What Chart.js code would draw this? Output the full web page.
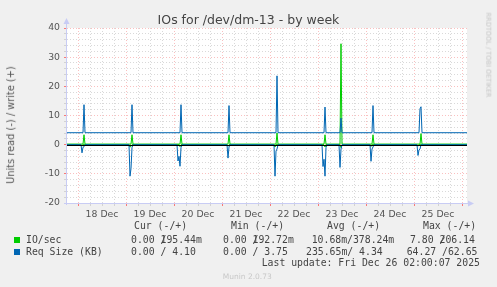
<!DOCTYPE html>
<html>
<head>
<meta charset="utf-8">
<script src="https://cdn.jsdelivr.net/npm/chart.js@4.4.1/dist/chart.umd.min.js"></script>
<style>
body{margin:0;background:#f0f0f0;width:497px;height:287px;overflow:hidden;position:relative;font-family:"DejaVu Sans",sans-serif}
#grafico{position:absolute;left:0;top:0}
.t{position:absolute;white-space:pre;line-height:1}
.mono{font-family:"DejaVu Sans Mono",monospace;font-size:9.8px;color:#444}
.o{display:inline-block;width:0}
.sq{position:absolute;width:6px;height:6px}
</style>
</head>
<body>
<canvas id="grafico" width="497" height="287"></canvas>
<div id="textos"></div>
<script>
// hours counted from 18 Dec 00:00, one munin sample = 0.5 h
const dayLabels = ["18 Dec", "19 Dec", "20 Dec", "21 Dec", "22 Dec", "23 Dec", "24 Dec", "25 Dec"];

// IO/sec write (+)
const ioWrite = [[-5.5,0.2],
  [2.5,0.2],[3,3.4],[3.5,0.2],
  [26.5,0.2],[27,3.4],[27.5,0.2],
  [51,0.2],[51.5,3.4],[52,0.2],
  [75,0.2],[75.5,3.4],[76,0.2],
  [99,0.2],[99.5,4.0],[100,0.2],
  [123,0.2],[123.5,3.4],[124,0.2],
  [131,0.2],[131.5,34.6],[132,0.2],
  [147,0.2],[147.5,3.4],[148,0.2],
  [171,0.2],[171.5,3.8],[172,0.2],
  [194.5,0.2]];

// IO/sec read (-)
const ioRead = [[-5.5,0],
  [1.5,0],[2,-0.5],[2.5,0],
  [25.5,0],[26,-0.8],[26.5,-0.6],[27,0],
  [50.5,0],[51,-0.7],[51.5,0],
  [74.5,0],[75,-0.5],[75.5,0],
  [98,0],[98.5,-0.8],[99,0],
  [123,0],[123.5,-0.8],[124,0],
  [131,0],[131.5,-1.0],[132,0],
  [146,0],[146.5,-0.6],[147,0],
  [169.5,0],[170,-0.5],[170.5,0],
  [194.5,0]];

// Req Size write (+)
const reqWrite = [[-5.5,4.1],
  [2.5,4.1],[3,13.7],[3.5,4.1],
  [26.5,4.1],[27,13.7],[27.5,4.1],
  [51,4.1],[51.5,13.7],[52,4.1],
  [75,4.1],[75.5,13.4],[76,4.1],
  [99,4.1],[99.5,23.6],[100,4.1],
  [123,4.1],[123.5,12.9],[124,4.1],
  [131,4.1],[131.5,9.1],[132,4.1],
  [147,4.1],[147.5,13.4],[148,4.1],
  [170.5,4.1],[171,12.3],[171.5,13.0],[172,4.1],
  [194.5,4.1]];

// Req Size read (-)
const reqRead = [[-5.5,0],
  [1.5,0],[2,-2.8],[2.5,-0.9],[3,-0.7],[3.5,0],
  [25.5,0],[26,-10.8],[26.5,-8.2],[27,-1.0],[27.5,0],
  [49.5,0],[50,-5.6],[50.5,-4.0],[51,-7.4],[51.5,-1.0],[52,0],
  [74.5,0],[75,-4.6],[75.5,-0.8],[76,0],
  [98,0],[98.5,-10.8],[99,-2.2],[99.5,-1.5],[100,0],
  [122,0],[122.5,-7.5],[123,-5.0],[123.5,-10.8],[124,-1.0],[124.5,0],
  [130.5,0],[131,-7.8],[131.5,-1.5],[132,0],
  [146,0],[146.5,-5.7],[147,-1.5],[147.5,-0.8],[148,0],
  [169.5,0],[170,-3.7],[170.5,-1.8],[171,-1.5],[171.5,0],
  [194.5,0]];

const legendHeads = ["Cur (-/+)", "Min (-/+)", "Avg (-/+)", "Max (-/+)"];
const ioSecLegend = ["0.00 /195.44m", "0.00 /192.72m", "10.68m/378.24m", "7.80 /206.14"];
const reqSizeLegend = ["0.00 / 4.10", "0.00 / 3.75", "235.65m/ 4.34", "64.27 /62.65"];
const lastUpdate = "Last update: Fri Dec 26 02:00:07 2025";

const VERDE = "#00cc00";
const AZUL = "#0066b3";
const ROJO = "rgba(240,60,60,0.32)";
const GRIS = "rgba(120,120,120,0.28)";

const getElemento = (id) => document.getElementById(id);
const toPts = (a) => a.map(([x, y]) => ({ x, y }));

function linea(label, data, color) {
    return { label, data: toPts(data), borderColor: color, borderWidth: 1,
             pointRadius: 0, tension: 0, fill: false };
}

const muninPlugin = {
    id: "munin",
    beforeDraw(chart) {/*fondo blanco del area del grafico*/
        const { ctx, chartArea: a } = chart;
        ctx.save();
        ctx.fillStyle = "#ffffff";
        ctx.fillRect(a.left, a.top, a.right - a.left, a.bottom - a.top);
        ctx.restore();
    },
    afterDatasetsDraw(chart) {/*linea del cero*/
        const { ctx, chartArea: a } = chart;
        const y0 = Math.round(chart.scales.y.getPixelForValue(0)) + 0.5;
        ctx.save();
        ctx.strokeStyle = "#000000";
        ctx.lineWidth = 1;
        ctx.beginPath();
        ctx.moveTo(a.left, y0);
        ctx.lineTo(a.right, y0);
        ctx.stroke();
        ctx.restore();
    },
    afterDraw(chart) {/*ejes con flechas*/
        const { ctx, chartArea: a } = chart;
        ctx.save();
        ctx.strokeStyle = "#c8ccf4";
        ctx.fillStyle = "#c8ccf4";
        ctx.lineWidth = 1;
        ctx.beginPath();
        ctx.moveTo(a.left - 0.5, a.bottom + 2);
        ctx.lineTo(a.left - 0.5, a.top - 5);
        ctx.moveTo(a.left - 3, a.bottom + 0.5);
        ctx.lineTo(a.right + 3, a.bottom + 0.5);
        ctx.stroke();
        ctx.beginPath();
        ctx.moveTo(a.left - 0.5, a.top - 10);
        ctx.lineTo(a.left - 3.5, a.top - 4);
        ctx.lineTo(a.left + 2.5, a.top - 4);
        ctx.closePath();
        ctx.fill();
        ctx.beginPath();
        ctx.moveTo(a.right + 7, a.bottom + 0.5);
        ctx.lineTo(a.right + 1, a.bottom - 2.5);
        ctx.lineTo(a.right + 1, a.bottom + 3.5);
        ctx.closePath();
        ctx.fill();
        ctx.restore();
    }
};

Chart.defaults.font.family = "'DejaVu Sans', sans-serif";

const grafico = new Chart(getElemento("grafico").getContext("2d"), {
    type: "line",
    data: {
        datasets: [
            linea("Req Size write", reqWrite, AZUL),
            linea("Req Size read", reqRead, AZUL),
            linea("IO/sec write", ioWrite, VERDE),
            linea("IO/sec read", ioRead, VERDE)
        ]
    },
    options: {
        responsive: false,
        animation: false,
        events: [],
        layout: { padding: { left: 0, top: 28, right: 30, bottom: 64 } },
        plugins: { legend: { display: false }, title: { display: false }, tooltip: { enabled: false } },
        scales: {
            x: {
                type: "linear",
                min: -5.5,
                max: 194.5,
                afterBuildTicks: (s) => {
                    const t = [];
                    for (let h = 0; h <= 192; h += 6) t.push({ value: h });
                    s.ticks = t;
                },
                afterFit: (s) => { s.height = 20; },
                ticks: {
                    autoSkip: false, maxRotation: 0, minRotation: 0, padding: 3,
                    color: "#555", font: { size: 9.3 },
                    callback: (v) => (v % 24 === 12 ? dayLabels[(v - 12) / 24] : "")
                },
                grid: {
                    color: (c) => (c.tick && c.tick.value % 24 === 0 ? ROJO : GRIS),
                    tickColor: (c) => (c.tick && c.tick.value % 24 === 0 ? "rgba(255,0,0,0.5)" : "rgba(120,120,120,0.25)"),
                    tickLength: 3
                },
                border: { display: false, dash: [1, 2] }
            },
            y: {
                min: -20,
                max: 40,
                afterBuildTicks: (s) => {
                    const t = [];
                    for (let v = -20; v <= 40; v += 2) t.push({ value: v });
                    s.ticks = t;
                },
                afterFit: (s) => { s.width = 67; },
                ticks: {
                    autoSkip: false, padding: 4, color: "#555", font: { size: 9.3 },
                    callback: (v) => (v % 10 === 0 ? String(v) : "")
                },
                grid: {
                    color: (c) => (c.tick && c.tick.value % 10 === 0 ? ROJO : GRIS),
                    tickColor: (c) => (c.tick && c.tick.value % 10 === 0 ? "rgba(255,0,0,0.5)" : "rgba(120,120,120,0.25)"),
                    tickLength: 3
                },
                border: { display: false, dash: [1, 2] }
            }
        }
    },
    plugins: [muninPlugin]
});

// textos: titulo, leyenda y pie
const textos = getElemento("textos");
function texto(html, css, clase) {
    const d = document.createElement("div");
    d.className = "t " + (clase || "");
    d.innerHTML = html;
    d.style.cssText = css;
    textos.appendChild(d);
    return d;
}
const solapar = (s) => s.replace("/", '<span class="o">/</span>');

texto("IOs for /dev/dm-13 - by week", "left:0;width:497px;text-align:center;top:13.5px;font-size:12.5px;color:#444");
texto("Units read (-) / write (+)", "left:11px;top:124.5px;font-size:9.8px;color:#555;transform:translate(-50%,-50%) rotate(-90deg)");
texto("RRDTOOL / TOBI OETIKER", "left:488px;top:55px;font-size:6.6px;color:#c4c4c4;transform:translate(-50%,-50%) rotate(90deg)");

const colHead = [134, 231, 327, 423];
const colIo = [131, 223, 311.7, 410];
const colReq = [131, 223, 306, 406.7];
legendHeads.forEach((s, i) => texto(s, `left:${colHead[i]}px;top:221px`, "mono"));
ioSecLegend.forEach((s, i) => texto(i === 2 ? s : solapar(s), `left:${colIo[i]}px;top:235px`, "mono"));
reqSizeLegend.forEach((s, i) => texto(s, `left:${colReq[i]}px;top:246.5px`, "mono"));
texto("IO/sec", "left:26px;top:235px", "mono");
texto("Req Size (KB)", "left:26px;top:246.5px", "mono");
texto(lastUpdate, "left:261.7px;top:258.4px", "mono");
texto("Munin 2.0.73", "left:222.7px;top:272.5px;font-size:7.5px;color:#c8c8c8");

const sqV = document.createElement("div"); sqV.className = "sq";
sqV.style.cssText = `left:14px;top:237px;background:${VERDE}`; textos.appendChild(sqV);
const sqA = document.createElement("div"); sqA.className = "sq";
sqA.style.cssText = `left:14px;top:249px;background:${AZUL}`; textos.appendChild(sqA);
</script>
</body>
</html>
